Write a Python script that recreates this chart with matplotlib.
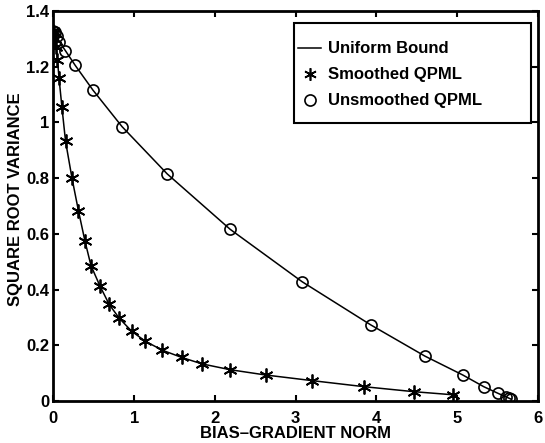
import matplotlib
matplotlib.use("Agg")
import matplotlib.pyplot as plt
from matplotlib.lines import Line2D
from matplotlib.patches import Rectangle

# data
smooth_x = [0.0, 0.01, 0.02, 0.035, 0.05, 0.07, 0.105, 0.15, 0.23, 0.31, 0.39, 0.465,
            0.576, 0.69, 0.815, 0.97, 1.14, 1.35, 1.59, 1.84, 2.19, 2.63, 3.2, 3.85, 4.47, 4.95]
smooth_y = [1.33, 1.32, 1.30, 1.27, 1.225, 1.158, 1.056, 0.933, 0.80, 0.683, 0.575, 0.486,
            0.413, 0.347, 0.297, 0.25, 0.214, 0.182, 0.156, 0.133, 0.112, 0.093, 0.073, 0.051, 0.033, 0.022]
unsmooth_x = [0.0, 0.02, 0.04, 0.074, 0.148, 0.27, 0.49, 0.85, 1.41, 2.19, 3.08, 3.93,
              4.6, 5.07, 5.33, 5.5, 5.6, 5.64, 5.67]
unsmooth_y = [1.33, 1.325, 1.31, 1.29, 1.258, 1.205, 1.116, 0.985, 0.815, 0.616, 0.428, 0.273,
              0.161, 0.093, 0.051, 0.028, 0.015, 0.01, 0.006]

plt.rcParams["font.family"] = ["Liberation Sans", "DejaVu Sans"]
plt.rcParams["font.weight"] = "bold"

fig = plt.figure(figsize=(5.45, 4.43), dpi=100, facecolor="white")
ax = fig.add_axes([0.098, 0.095, 0.889, 0.88])

# uniform bound curves
ax.plot(smooth_x, smooth_y, color="black", lw=1.1)
ax.plot(unsmooth_x, unsmooth_y, color="black", lw=1.1)
# estimator points
ax.plot(smooth_x, smooth_y, ls="none", marker=(6, 2, 0), ms=10, mew=1.3, color="black")
ax.plot(unsmooth_x, unsmooth_y, ls="none", marker="o", ms=8, mew=1.2, mfc="none", mec="black")

ax.set_xlim(0, 6)
ax.set_ylim(0, 1.4)
ax.set_xticks([0, 1, 2, 3, 4, 5, 6])
ax.set_yticks([0, 0.2, 0.4, 0.6, 0.8, 1.0, 1.2, 1.4])
ax.set_yticklabels(["0", "0.2", "0.4", "0.6", "0.8", "1", "1.2", "1.4"])
ax.tick_params(direction="in", top=True, right=True, length=4, width=1.5,
               labelsize=12)
ax.tick_params(axis="x", pad=7)
ax.tick_params(axis="y", pad=3)
for s in ax.spines.values():
    s.set_linewidth(2)

ax.set_xlabel("BIAS–GRADIENT NORM", fontsize=12, fontweight="bold", labelpad=0)
ax.set_ylabel("SQUARE ROOT VARIANCE", fontsize=12, fontweight="bold")
ax.yaxis.set_label_coords(-0.063, 0.518)

# legend box drawn separately, MATLAB style with extra room
ax.add_patch(Rectangle((0.497, 0.714), 0.489, 0.255, transform=ax.transAxes,
                       fill=True, facecolor="white", edgecolor="black", lw=1.5, zorder=4))
handles = [Line2D([], [], color="black", lw=1.1),
           Line2D([], [], ls="none", marker=(6, 2, 0), ms=9, mew=1.2, color="black"),
           Line2D([], [], ls="none", marker="o", ms=8, mew=1.2, mfc="none", mec="black")]
leg = ax.legend(handles, ["Uniform Bound", "Smoothed QPML", "Unsmoothed QPML"],
                loc="upper left", bbox_to_anchor=(0.505, 0.922), frameon=False,
                handlelength=1.4, handletextpad=0.4, borderpad=0, borderaxespad=0,
                labelspacing=0.66, prop={"size": 12, "weight": "bold"})
leg.set_zorder(5)

plt.savefig("out.png", dpi=100)
